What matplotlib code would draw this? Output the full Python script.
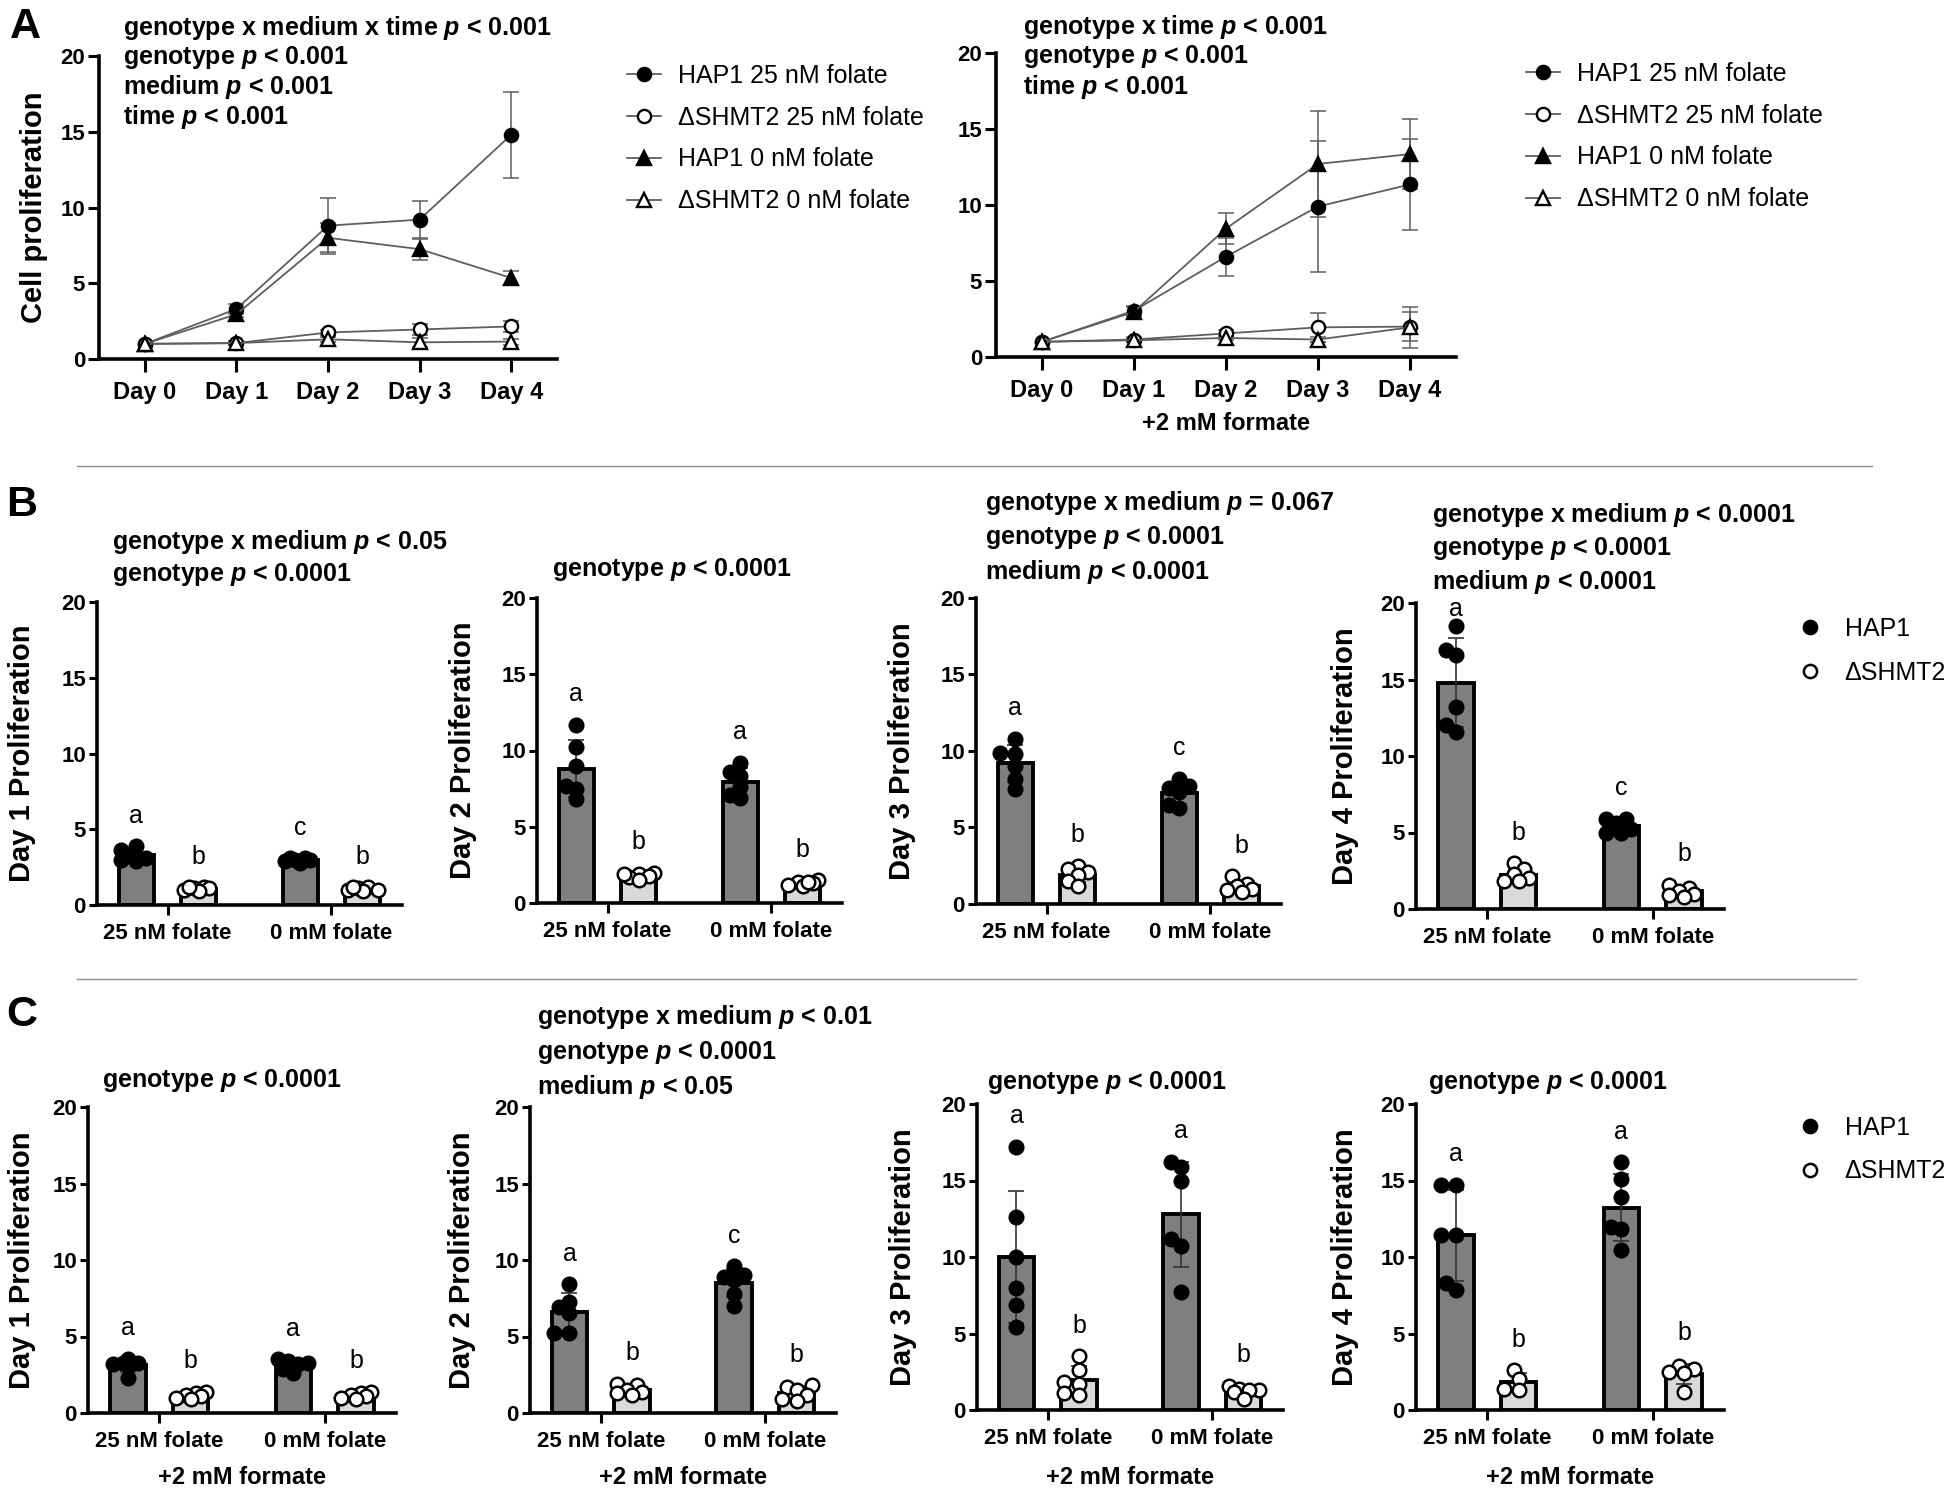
import numpy as np
import matplotlib
matplotlib.use('Agg')
import matplotlib.pyplot as plt
from matplotlib.lines import Line2D

plt.rcParams['font.family'] = ['Liberation Sans', 'DejaVu Sans']
plt.rcParams['mathtext.fontset'] = 'custom'
plt.rcParams['mathtext.it'] = 'Liberation Sans:italic:bold'
plt.rcParams['mathtext.rm'] = 'Liberation Sans:bold'
plt.rcParams['mathtext.bf'] = 'Liberation Sans:bold'

# ------------------------------------------------------------------ data
days = ['Day 0', 'Day 1', 'Day 2', 'Day 3', 'Day 4']
series_labels = ['HAP1 25 nM folate', 'ΔSHMT2 25 nM folate',
                 'HAP1 0 nM folate', 'ΔSHMT2 0 nM folate']

# Panel A (left): no formate, mean and SD
a_hap1_25 = [1.0, 3.3, 8.8, 9.2, 14.8]
a_hap1_25_sd = [0, 0.35, 1.85, 1.2, 2.85]
a_shmt_25 = [1.0, 1.05, 1.75, 1.95, 2.15]
a_shmt_25_sd = [0, 0.15, 0.15, 0.35, 0.35]
a_hap1_0 = [1.0, 2.95, 8.0, 7.25, 5.35]
a_hap1_0_sd = [0, 0.15, 0.95, 0.7, 0.45]
a_shmt_0 = [1.0, 1.05, 1.3, 1.1, 1.15]
a_shmt_0_sd = [0, 0.15, 0.15, 0.3, 0.2]

# Panel A (right): +2 mM formate
af_hap1_25 = [1.0, 3.05, 6.6, 9.9, 11.35]
af_hap1_25_sd = [0, 0.3, 1.25, 4.3, 3.0]
af_shmt_25 = [1.0, 1.15, 1.55, 1.95, 2.0]
af_shmt_25_sd = [0, 0.15, 0.25, 0.95, 0.95]
af_hap1_0 = [1.0, 2.97, 8.45, 12.7, 13.35]
af_hap1_0_sd = [0, 0.3, 1.0, 3.5, 2.3]
af_shmt_0 = [1.0, 1.1, 1.25, 1.15, 1.95]
af_shmt_0_sd = [0, 0.1, 0.15, 0.15, 1.35]

group_labels = ['25 nM folate', '0 mM folate']
genotype_labels = ['HAP1', 'ΔSHMT2']

# Panel B: replicate values (HAP1 25, ΔSHMT2 25, HAP1 0, ΔSHMT2 0)
b1_hap1_25 = [3.0, 3.6, 3.9, 3.3, 2.9, 3.1]
b1_shmt_25 = [1.1, 1.2, 1.0, 1.1, 0.9, 1.2]
b1_hap1_0 = [3.1, 3.0, 2.9, 2.8, 3.0, 3.1]
b1_shmt_0 = [1.2, 1.0, 1.1, 0.9, 1.0, 1.2]

b2_hap1_25 = [11.7, 10.2, 9.0, 7.65, 7.5, 6.8]
b2_shmt_25 = [1.9, 2.0, 1.8, 1.7, 1.9, 1.5]
b2_hap1_0 = [9.2, 8.6, 8.35, 7.6, 6.9, 7.1]
b2_shmt_0 = [1.5, 1.4, 1.3, 1.2, 1.1, 1.4]

b3_hap1_25 = [10.8, 9.8, 9.85, 9.0, 8.2, 7.5]
b3_shmt_25 = [2.5, 2.3, 2.1, 1.9, 1.5, 1.2]
b3_hap1_0 = [8.2, 7.6, 7.7, 7.3, 6.3, 6.5]
b3_shmt_0 = [1.8, 1.3, 1.2, 1.0, 0.8, 0.9]

b4_hap1_25 = [18.5, 16.9, 16.6, 13.2, 11.6, 12.0]
b4_shmt_25 = [3.0, 2.6, 2.3, 2.0, 1.8, 1.8]
b4_hap1_0 = [5.9, 5.9, 5.6, 5.2, 5.0, 5.0]
b4_shmt_0 = [1.6, 1.4, 1.2, 1.0, 0.8, 0.9]

# Panel C: +2 mM formate
c1_hap1_25 = [3.5, 3.3, 3.3, 3.2, 3.1, 2.3]
c1_shmt_25 = [1.4, 1.3, 1.2, 1.1, 1.0, 0.9]
c1_hap1_0 = [3.5, 3.4, 3.3, 3.2, 2.9, 2.6]
c1_shmt_0 = [1.4, 1.3, 1.1, 1.2, 0.9, 1.0]

c2_hap1_25 = [8.4, 7.25, 6.9, 6.55, 5.2, 5.2]
c2_shmt_25 = [1.9, 1.8, 1.5, 1.4, 1.3, 1.2]
c2_hap1_0 = [9.6, 9.0, 8.9, 8.7, 7.8, 7.0]
c2_shmt_0 = [1.8, 1.7, 1.5, 1.2, 0.9, 0.8]

c3_hap1_25 = [17.2, 12.6, 10.0, 7.95, 6.85, 5.4]
c3_shmt_25 = [3.5, 2.6, 1.8, 1.7, 1.1, 1.0]
c3_hap1_0 = [15.9, 16.2, 15.0, 11.2, 10.7, 7.7]
c3_shmt_0 = [1.6, 1.4, 1.3, 1.3, 1.2, 0.7]

c4_hap1_25 = [14.7, 14.7, 11.45, 11.45, 8.3, 7.85]
c4_shmt_25 = [2.6, 2.0, 1.4, 1.3]
c4_hap1_0 = [16.2, 15.1, 13.9, 11.95, 11.8, 10.45]
c4_shmt_0 = [2.9, 2.7, 2.5, 2.4, 1.2]

b_letters = [['a', 'b', 'c', 'b'], ['a', 'b', 'a', 'b'],
             ['a', 'b', 'c', 'b'], ['a', 'b', 'c', 'b']]
c_letters = [['a', 'b', 'a', 'b'], ['a', 'b', 'c', 'b'],
             ['a', 'b', 'a', 'b'], ['a', 'b', 'a', 'b']]

stats_a_left = ['genotype x medium x time $p$ < 0.001', 'genotype $p$ < 0.001',
                'medium $p$ < 0.001', 'time $p$ < 0.001']
stats_a_right = ['genotype x time $p$ < 0.001', 'genotype $p$ < 0.001',
                 'time $p$ < 0.001']
stats_b = [['genotype x medium $p$ < 0.05', 'genotype $p$ < 0.0001'],
           ['genotype $p$ < 0.0001'],
           ['genotype x medium $p$ = 0.067', 'genotype $p$ < 0.0001', 'medium $p$ < 0.0001'],
           ['genotype x medium $p$ < 0.0001', 'genotype $p$ < 0.0001', 'medium $p$ < 0.0001']]
stats_c = [['genotype $p$ < 0.0001'],
           ['genotype x medium $p$ < 0.01', 'genotype $p$ < 0.0001', 'medium $p$ < 0.05'],
           ['genotype $p$ < 0.0001'],
           ['genotype $p$ < 0.0001']]

# ------------------------------------------------------------------ layout
W, H = 1944, 1492
fig = plt.figure(figsize=(W / 100, H / 100), dpi=100)
fig.patch.set_facecolor('white')


def px_ax(box):
    l, t, r, b = box
    return fig.add_axes([l / W, 1 - b / H, (r - l) / W, (b - t) / H])


def ftext(x, y, s, **kw):
    return fig.text(x / W, 1 - y / H, s, **kw)


def style_axes(ax, ylen=6, xlen=7):
    for s in ['top', 'right']:
        ax.spines[s].set_visible(False)
    for s in ['left', 'bottom']:
        ax.spines[s].set_linewidth(2.6)
    ax.set_ylim(0, 20)
    ax.set_yticks([0, 5, 10, 15, 20])
    ax.tick_params(axis='y', direction='out', length=ylen, width=2.2, pad=2,
                   labelsize=16)
    ax.tick_params(axis='x', direction='out', length=xlen, width=2.2, pad=6)
    for lab in ax.get_yticklabels():
        lab.set_fontweight('bold')
    ax.patch.set_alpha(0)


LINE_COLOR = '#5e5e5e'
MARKERS = [('o', 'black'), ('o', 'white'), ('^', 'black'), ('^', 'white')]


def line_panel(box, series, sds):
    ax = px_ax(box)
    x = np.arange(len(days))
    handles = []
    for vals, sd, (m, fc), lab in zip(series, sds, MARKERS, series_labels):
        vals = np.asarray(vals, float)
        sd = np.asarray(sd, float)
        ax.errorbar(x[1:], vals[1:], yerr=sd[1:], fmt='none', ecolor=LINE_COLOR,
                    elinewidth=1.1, capsize=6, capthick=1.1, zorder=2, clip_on=False)
        h, = ax.plot(x, vals, color=LINE_COLOR, lw=1.3, marker=m, mfc=fc,
                     mec='black', mew=1.7, ms=9.5, zorder=3, clip_on=False, label=lab)
        handles.append(h)
    ax.set_xlim(-0.5, 4.5)
    ax.set_xticks(x)
    ax.set_xticklabels(days, fontsize=17, fontweight='bold')
    style_axes(ax, ylen=8, xlen=9.5)
    return ax, handles


def swarm_offsets(vals, xscale, yscale, d=13.5, max_off=15.0):
    """Simple beeswarm in pixel space, limited to about the bar width."""
    vals = np.asarray(vals, float)
    order = np.argsort(vals)
    step = 5.0
    cands = [0.0]
    k = 1
    while k * step <= max_off + 1e-6:
        cands += [-k * step, k * step]
        k += 1
    placed = []
    off = np.zeros(len(vals))
    thr = 0.75 * d
    for i in order:
        y = vals[i] * yscale
        best, best_d = 0.0, -1
        chosen = None
        for c in cands:
            dmin = min([np.hypot(c - px, y - py) for px, py in placed] + [1e9])
            if dmin >= thr:
                chosen = c
                break
            if dmin > best_d:
                best, best_d = c, dmin
        if chosen is None:
            chosen = best
        off[i] = chosen
        placed.append((chosen, y))
    return off / xscale


BAR_X = [-0.19, 0.19, 0.81, 1.19]
BAR_FILL = ['#7f7f7f', '#d9d9d9', '#7f7f7f', '#d9d9d9']
DOT_FILL = ['black', 'white', 'black', 'white']


def bar_panel(box, groups, letters):
    ax = px_ax(box)
    l, t, r, b = box
    xscale = (r - l) / 1.86
    yscale = (b - t) / 20.0
    for x, vals, bf, df, let in zip(BAR_X, groups, BAR_FILL, DOT_FILL, letters):
        vals = np.asarray(vals, float)
        mean = vals.mean()
        sd = vals.std(ddof=1)
        ax.bar(x, mean, width=0.215, color=bf, edgecolor='black', linewidth=2.8,
               zorder=2)
        ax.errorbar([x], [mean], yerr=[sd], fmt='none', ecolor='#333333',
                    elinewidth=1.2, capsize=6, capthick=1.2, zorder=3)
        off = swarm_offsets(vals, xscale, yscale)
        ax.scatter(x + off, vals, s=95, c=df, edgecolors='black', linewidths=1.8,
                   zorder=4, clip_on=False)
        top = max(vals.max(), mean + sd)
        ax.text(x, min(top + 2.0, 19.6), let, ha='center', va='center',
                fontsize=18, clip_on=False)
    ax.set_xlim(-0.43, 1.43)
    ax.set_xticks([0, 1])
    ax.set_xticklabels(group_labels, fontsize=16, fontweight='bold')
    style_axes(ax)
    return ax


def stats(x, y, lines, dy, size=18):
    for i, s in enumerate(lines):
        ftext(x, y + i * dy, s, ha='left', va='center', fontsize=size,
              fontweight='bold')


# ---------------- Panel A
boxA1 = (99, 56, 557, 359)
boxA2 = (996, 53, 1456, 357)
axA1, hA1 = line_panel(boxA1, [a_hap1_25, a_shmt_25, a_hap1_0, a_shmt_0],
                       [a_hap1_25_sd, a_shmt_25_sd, a_hap1_0_sd, a_shmt_0_sd])
axA2, hA2 = line_panel(boxA2, [af_hap1_25, af_shmt_25, af_hap1_0, af_shmt_0],
                       [af_hap1_25_sd, af_shmt_25_sd, af_hap1_0_sd, af_shmt_0_sd])
ftext(34, 207, 'Cell proliferation', rotation=90, ha='center', va='center',
      fontsize=21, fontweight='bold')
ftext(1226, 423, '+2 mM formate', ha='center', va='center', fontsize=17,
      fontweight='bold')
stats(123, 28, stats_a_left, 29.7)
stats(1023, 27, stats_a_right, 30)

leg_kw = dict(loc='upper left', frameon=False, fontsize=18, borderpad=0,
              borderaxespad=0, handlelength=1.35, handletextpad=0.7,
              labelspacing=0.71)
fig.legend(hA1, series_labels, bbox_to_anchor=(627 / W, 1 - 64 / H), **leg_kw)
fig.legend(hA2, series_labels, bbox_to_anchor=(1526 / W, 1 - 62 / H), **leg_kw)

# ---------------- Panel B
boxesB = [(97, 602, 402, 905), (537, 598, 842, 903), (976, 598, 1281, 904),
          (1416, 603, 1724, 909)]
groupsB = [[b1_hap1_25, b1_shmt_25, b1_hap1_0, b1_shmt_0],
           [b2_hap1_25, b2_shmt_25, b2_hap1_0, b2_shmt_0],
           [b3_hap1_25, b3_shmt_25, b3_hap1_0, b3_shmt_0],
           [b4_hap1_25, b4_shmt_25, b4_hap1_0, b4_shmt_0]]
ylab_xB = [22, 463, 902, 1345]
statsB_pos = [(112, 542, 33), (552, 570, 33), (985, 503, 34.5), (1432, 515, 33.5)]
for i in range(4):
    bar_panel(boxesB[i], groupsB[i], b_letters[i])
    l, t, r, b = boxesB[i]
    ftext(ylab_xB[i], (t + b) / 2, 'Day %d Proliferation' % (i + 1), rotation=90,
          ha='center', va='center', fontsize=21, fontweight='bold')
    sx, sy, sdy = statsB_pos[i]
    stats(sx, sy, stats_b[i], sdy)

# ---------------- Panel C
boxesC = [(88, 1107, 396, 1413), (530, 1107, 836, 1413), (977, 1104, 1283, 1410),
          (1416, 1104, 1724, 1410)]
groupsC = [[c1_hap1_25, c1_shmt_25, c1_hap1_0, c1_shmt_0],
           [c2_hap1_25, c2_shmt_25, c2_hap1_0, c2_shmt_0],
           [c3_hap1_25, c3_shmt_25, c3_hap1_0, c3_shmt_0],
           [c4_hap1_25, c4_shmt_25, c4_hap1_0, c4_shmt_0]]
ylab_xC = [22, 462, 903, 1345]
statsC_pos = [(102, 1080, 34), (537, 1017, 35), (987, 1082, 34), (1428, 1082, 34)]
for i in range(4):
    bar_panel(boxesC[i], groupsC[i], c_letters[i])
    l, t, r, b = boxesC[i]
    ftext(ylab_xC[i], (t + b) / 2, 'Day %d Proliferation' % (i + 1), rotation=90,
          ha='center', va='center', fontsize=21, fontweight='bold')
    ftext((l + r) / 2, 1477, '+2 mM formate', ha='center', va='center',
          fontsize=17, fontweight='bold')
    sx, sy, sdy = statsC_pos[i]
    stats(sx, sy, stats_c[i], sdy)

# legends for B and C
dot_handles = [Line2D([], [], ls='none', marker='o', mfc='black', mec='black',
                      mew=1.8, ms=9.5),
               Line2D([], [], ls='none', marker='o', mfc='white', mec='black',
                      mew=1.8, ms=9.5)]
leg2_kw = dict(loc='upper left', frameon=False, fontsize=18, borderpad=0,
               borderaxespad=0, handlelength=1.0, handletextpad=0.9,
               labelspacing=0.78)
fig.legend(dot_handles, genotype_labels, bbox_to_anchor=(1797 / W, 1 - 617 / H),
           **leg2_kw)
fig.legend(dot_handles, genotype_labels, bbox_to_anchor=(1797 / W, 1 - 1116 / H),
           **leg2_kw)

# panel letters
ftext(25, 27, 'A', ha='center', va='center', fontsize=31, fontweight='bold')
ftext(22, 505, 'B', ha='center', va='center', fontsize=31, fontweight='bold')
ftext(22, 1015, 'C', ha='center', va='center', fontsize=31, fontweight='bold')

# separator lines
fig.add_artist(Line2D([77 / W, 1872 / W], [1 - 466 / H, 1 - 466 / H],
                      transform=fig.transFigure, color='#8c8c8c', lw=1.0))
fig.add_artist(Line2D([77 / W, 1856 / W], [1 - 979 / H, 1 - 979 / H],
                      transform=fig.transFigure, color='#8c8c8c', lw=1.0))

fig.savefig('out.png', dpi=100, facecolor='white')
